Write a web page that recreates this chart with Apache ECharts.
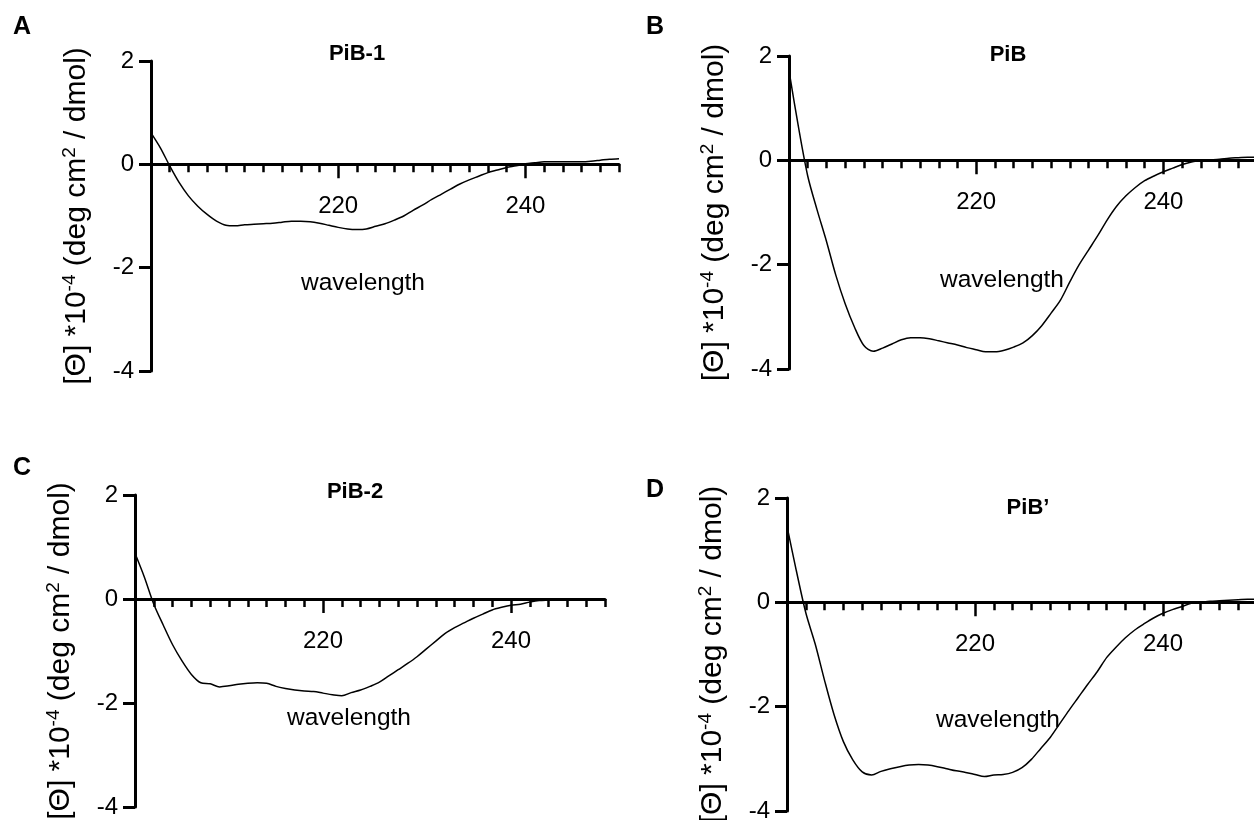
<!DOCTYPE html>
<html><head><meta charset="utf-8">
<script src="https://cdn.jsdelivr.net/npm/echarts@6/dist/echarts.min.js"></script>
<style>html,body{margin:0;padding:0;background:#fff}#c{width:1254px;height:820px}</style>
</head><body><div id="c"></div>
<script>
// ---- data ----
const wavelengths = [200,201,202,203,204,205,206,207,208,209,210,211,212,213,214,215,216,217,218,219,220,
  221,222,223,224,225,226,227,228,229,230,231,232,233,234,235,236,237,238,239,240,
  241,242,243,244,245,246,247,248,249,250];
const pib1 = [0.61,0.32,-0.03,-0.35,-0.61,-0.81,-0.97,-1.10,-1.18,-1.19,-1.17,-1.16,-1.15,-1.14,-1.12,-1.10,-1.10,-1.11,-1.14,-1.18,-1.22,
  -1.25,-1.26,-1.25,-1.20,-1.15,-1.08,-1.00,-0.89,-0.79,-0.68,-0.58,-0.48,-0.38,-0.30,-0.23,-0.16,-0.11,-0.06,-0.03,0.01,
  0.03,0.05,0.05,0.05,0.05,0.05,0.06,0.08,0.10,0.11];
const pib = [1.72,0.65,-0.30,-0.95,-1.55,-2.20,-2.75,-3.20,-3.55,-3.66,-3.60,-3.52,-3.44,-3.40,-3.40,-3.42,-3.46,-3.50,-3.54,-3.59,-3.63,
  -3.67,-3.67,-3.64,-3.58,-3.50,-3.36,-3.17,-2.93,-2.68,-2.33,-2.00,-1.72,-1.44,-1.14,-0.88,-0.68,-0.52,-0.39,-0.30,-0.22,
  -0.15,-0.08,-0.03,0.00,0.01,0.02,0.04,0.05,0.06,0.06];
const pib2 = [0.88,0.42,-0.10,-0.50,-0.88,-1.19,-1.45,-1.61,-1.63,-1.69,-1.67,-1.64,-1.62,-1.61,-1.62,-1.68,-1.72,-1.75,-1.77,-1.78,-1.81,
  -1.84,-1.86,-1.80,-1.75,-1.68,-1.60,-1.48,-1.36,-1.24,-1.11,-0.96,-0.81,-0.66,-0.55,-0.46,-0.37,-0.29,-0.21,-0.16,-0.12,
  -0.10,-0.06,-0.03,-0.02,-0.01,-0.01,-0.01,0.00,-0.01,0.00];
const pibPrime = [1.46,0.60,-0.20,-0.80,-1.50,-2.15,-2.67,-3.02,-3.25,-3.31,-3.24,-3.19,-3.15,-3.12,-3.11,-3.12,-3.15,-3.19,-3.23,-3.26,-3.30,
  -3.34,-3.31,-3.30,-3.26,-3.17,-3.01,-2.80,-2.59,-2.33,-2.07,-1.82,-1.57,-1.33,-1.06,-0.86,-0.68,-0.53,-0.41,-0.30,-0.21,
  -0.14,-0.08,-0.02,0.00,0.02,0.03,0.04,0.05,0.06,0.06];
const seriesValues = [pib1, pib, pib2, pibPrime];
const panelTitles = ['PiB-1', 'PiB', 'PiB-2', 'PiB\u2019'];
const panelLetters = ['A', 'B', 'C', 'D'];
const xTickLabels = [220, 240];
const yMin = -4, yMax = 2;
const xAxisTitle = 'wavelength';

// ---- layout ----
const FONT = "'Liberation Sans', Arial, Helvetica, sans-serif";
const grids = [
  {left: 151, top: 61, width: 468, height: 310},
  {left: 789, top: 56, width: 468, height: 313},
  {left: 135, top: 495, width: 470, height: 312},
  {left: 787, top: 498, width: 470, height: 313}
];
const letterPos = [[22, 27], [655, 27], [22, 468], [655, 490]];
const titlePos = [[357, 54], [1008, 55], [355, 492], [1028, 508]];
const wlPos = [[363, 283], [1002, 280], [349, 718], [998, 720]];

const xAxes = [], yAxes = [], series = [], graphics = [];
grids.forEach((g, i) => {
  // place the x axis at y = 0 via an offset from the grid bottom
  const zeroOffset = -g.height * (0 - yMin) / (yMax - yMin);
  xAxes.push({
    gridIndex: i, type: 'value', min: 200, max: 250, interval: 2, position: 'bottom', offset: zeroOffset,
    axisLine: {show: true, onZero: false, lineStyle: {color: '#000', width: 3}},
    axisTick: {show: true, length: 8, lineStyle: {color: '#000', width: 2.5}},
    axisLabel: {margin: 30, fontSize: 24, color: '#000', fontFamily: FONT,
      formatter: v => xTickLabels.indexOf(v) >= 0 ? String(v) : ''},
    splitLine: {show: false}
  });
  xAxes.push({
    gridIndex: i, type: 'value', min: 200, max: 250, position: 'bottom', offset: zeroOffset,
    axisLine: {show: false, onZero: false},
    axisTick: {show: true, length: 14, customValues: xTickLabels, lineStyle: {color: '#000', width: 2.5}},
    axisLabel: {show: false},
    splitLine: {show: false}
  });
  yAxes.push({
    gridIndex: i, type: 'value', min: yMin, max: yMax, interval: 2,
    axisLine: {show: true, onZero: false, lineStyle: {color: '#000', width: 3}},
    axisTick: {show: true, length: 12, lineStyle: {color: '#000', width: 3}},
    axisLabel: {margin: 17, fontSize: 24, color: '#000', fontFamily: FONT},
    splitLine: {show: false},
    name: '{a|[\u0398] *10}{s|-4}{a| (deg cm}{s|2}{a| / dmol)}',
    nameLocation: 'middle', nameRotate: 90, nameGap: 59,
    nameTextStyle: {
      color: '#000', fontFamily: FONT, fontSize: 30,
      rich: {
        a: {fontSize: 30, fontFamily: FONT, color: '#000', lineHeight: 32, verticalAlign: 'bottom'},
        s: {fontSize: 19, fontFamily: FONT, color: '#000', lineHeight: 32, verticalAlign: 'top'}
      }
    }
  });
  series.push({
    type: 'line', xAxisIndex: i * 2, yAxisIndex: i, showSymbol: false, smooth: 0.3,
    lineStyle: {color: '#000', width: 1.5}, z: 5,
    data: wavelengths.map((w, k) => [w, seriesValues[i][k]])
  });
  graphics.push({type: 'text', x: letterPos[i][0], y: letterPos[i][1],
    style: {text: panelLetters[i], font: 'bold 25px ' + FONT, fill: '#000', textAlign: 'center', textVerticalAlign: 'middle'}});
  graphics.push({type: 'text', x: titlePos[i][0], y: titlePos[i][1],
    style: {text: panelTitles[i], font: 'bold 22px ' + FONT, fill: '#000', textAlign: 'center', textVerticalAlign: 'middle'}});
  graphics.push({type: 'text', x: wlPos[i][0], y: wlPos[i][1],
    style: {text: xAxisTitle, font: '24.5px ' + FONT, fill: '#000', textAlign: 'center', textVerticalAlign: 'middle'}});
});

const chart = echarts.init(document.getElementById('c'));
chart.setOption({
  animation: false,
  backgroundColor: '#fff',
  grid: grids.map(g => Object.assign({containLabel: false, outerBoundsMode: 'none'}, g)),
  xAxis: xAxes,
  yAxis: yAxes,
  series: series,
  graphic: graphics
});
</script></body></html>
